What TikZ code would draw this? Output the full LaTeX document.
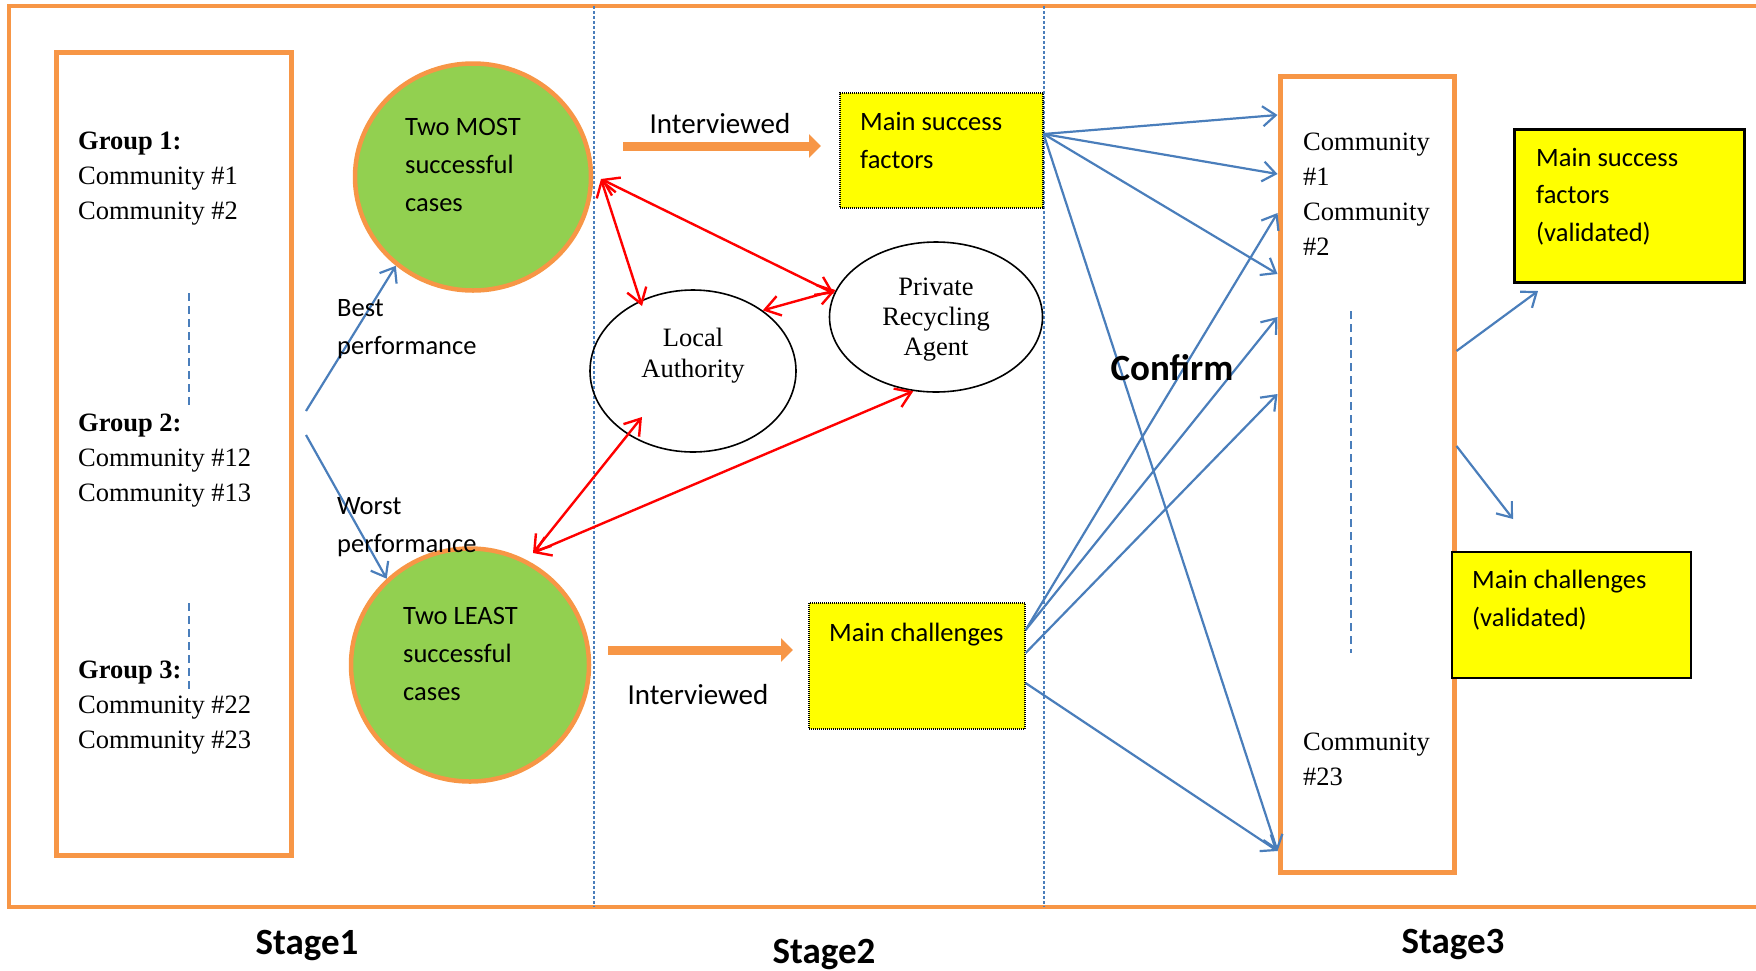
\documentclass[tikz,border=0pt]{standalone}
\usepackage{fontspec}
\setmainfont{Liberation Serif}
\newfontfamily\calibri{Carlito}
\usetikzlibrary{arrows.meta,positioning,calc,shapes.geometric}
\definecolor{frameorange}{HTML}{F79646}
\definecolor{casegreen}{HTML}{92D050}
\definecolor{notebg}{HTML}{FFFF00}
\definecolor{linkblue}{HTML}{4A7EBB}
\definecolor{linkred}{HTML}{FF0000}

\begin{document}
\begin{tikzpicture}[x=1pt, y=-1pt,
  serif/.style={font=\fontsize{26.5}{35}\selectfont, align=left, inner sep=0pt},
  sans/.style={font=\calibri\fontsize{26.5}{38}\selectfont, align=left, inner sep=0pt},
  ivtext/.style={font=\calibri\fontsize{29}{34}\selectfont, inner sep=0pt},
  casecircle/.style={ellipse, draw=frameorange, fill=casegreen, line width=4.5pt},
  actor/.style={ellipse, draw=black, line width=1.6pt},
  finding/.style={draw=black, fill=notebg, dash pattern=on 1pt off 1pt, line width=1.2pt},
  validated/.style={draw=black, fill=notebg},
  groupbox/.style={draw=frameorange, line width=5pt},
  stagedash/.style={draw=linkblue, line width=1.1pt, dash pattern=on 3pt off 2pt},
  innerdash/.style={draw=linkblue, line width=1.6pt, dash pattern=on 8pt off 5pt},
  flow/.style={-{Straight Barb[length=13pt,width=20pt]}, draw=linkblue, line width=2.2pt},
  tie/.style={{Straight Barb[length=15pt,width=20pt]}-{Straight Barb[length=15pt,width=20pt]},
              draw=linkred, line width=2.4pt},
  interview/.style={-{Triangle[length=12pt,width=23pt]}, draw=frameorange, line width=9pt},
  stagelabel/.style={font=\calibri\bfseries\fontsize{37}{40}\selectfont}]

\useasboundingbox (0,0) rectangle (1756,970);

% frame and stage separators
\draw[frameorange, line width=4pt] (1760,6) -- (9,6) -- (9,907) -- (1760,907);
\draw[stagedash] (594,6) -- (594,907);
\draw[stagedash] (1044,6) -- (1044,907);

% stage 1
\node[groupbox, minimum width=235pt, minimum height=803pt] (groups) at (173.5,453.5) {};
\node[serif, anchor=north west] (g1) at (78,132) {\textbf{Group 1:}\\Community \#1\\Community \#2};
\node[serif, anchor=north west] (g2) at (78,414) {\textbf{Group 2:}\\Community \#12\\Community \#13};
\node[serif, anchor=north west] (g3) at (78,661) {\textbf{Group 3:}\\Community \#22\\Community \#23};
\draw[innerdash] (189,293) -- (189,409);
\draw[innerdash] (189,603) -- (189,689);

\node[casecircle, minimum width=236pt, minimum height=227pt] (most) at (473,177) {};
\node[sans, anchor=north west] (mosttext) at (405,118) {Two MOST\\successful\\cases};
\node[casecircle, minimum width=238pt, minimum height=233pt] (least) at (470,665) {};
\node[sans, anchor=north west] (leasttext) at (403,607) {Two LEAST\\successful\\cases};

\coordinate (fork) at (306,411);
\coordinate (forklow) at (306,435);
\draw[flow] (fork) -- (most.229);
\draw[flow] (forklow) -- (least.134);
\node[sans, anchor=north west] (best) at (337,299) {Best\\performance};
\node[sans, anchor=north west] (worst) at (337,497) {Worst\\performance};

% stage 2
\node[ivtext] (ivtop) at (720,124) {Interviewed};
\coordinate (ivtopstart) at (623,146);
\coordinate (ivtopend) at (821,146);
\draw[interview] (ivtopstart) -- (ivtopend);
\node[ivtext] (ivlow) at (698,695) {Interviewed};
\coordinate (ivlowstart) at (608,650);
\coordinate (ivlowend) at (793,650);
\draw[interview] (ivlowstart) -- (ivlowend);

\node[finding, minimum width=203pt, minimum height=115pt] (succ) at (941.5,150.5) {};
\node[sans, anchor=north west] (succtext) at (860,112) {Main success\\factors};
\node[finding, minimum width=216pt, minimum height=126pt] (chal) at (917,666) {};
\node[sans, anchor=north west] (chaltext) at (829,623) {Main challenges};

\node[actor, minimum width=206pt, minimum height=162pt] (la) at (693,371) {};
\node[serif, align=center, font=\fontsize{26.5}{31}\selectfont] (latext)
  at ([yshift=15pt]la.center) {Local\\Authority};
\node[actor, minimum width=213pt, minimum height=150pt] (pra) at (936,317) {};
\node[serif, align=center, font=\fontsize{26.5}{30}\selectfont] (pratext)
  at ([yshift=-3pt]pra.center) {Private\\Recycling\\Agent};

\draw[tie] ($(most.center)+(128,2)$) -- ($(la.center)+(-51,-65)$);
\draw[tie] ($(most.center)+(128,2)$) -- (pra.167);
\draw[tie] (la.41) -- (pra.165);
\draw[tie] ($(la.center)+(-51,46)$) -- ($(least.center)+(63,-112)$);
\draw[tie] (pra.253) -- ($(least.center)+(63,-112)$);

% stage 3
\node[groupbox, minimum width=174pt, minimum height=796pt] (comm) at (1367,474) {};
\node[serif, anchor=north west] (commtop) at (1303,133) {Community\\\#1\\Community\\\#2};
\node[serif, anchor=north west] (commlow) at (1303,733) {Community\\\#23};
\draw[innerdash] (1351,311) -- (1351,653);

\node[validated, line width=3pt, minimum width=230pt, minimum height=153pt] (valsucc) at (1629,205.5) {};
\node[sans, anchor=north west, font=\calibri\fontsize{26.5}{37.5}\selectfont] (valsucctext)
  at (1536,148) {Main success\\factors\\(validated)};
\node[validated, line width=2pt, minimum width=239pt, minimum height=126pt] (valchal) at (1571.5,615) {};
\node[sans, anchor=north west] (valchaltext) at (1472,570) {Main challenges\\(validated)};

\foreach \dy in {359,300,200,-377}
  \draw[flow] ([yshift=16.5pt]succ.east) -- ([yshift=\dy pt]comm.west);
\draw[flow] ([yshift=36pt]chal.east) -- ([yshift=261pt]comm.west);
\draw[flow] ([yshift=36pt]chal.east) -- ([yshift=157pt]comm.west);
\draw[flow] ([yshift=13pt]chal.east) -- ([yshift=80pt]comm.west);
\draw[flow] ([yshift=-17pt]chal.east) -- ([yshift=-377pt]comm.west);

\coordinate (toval) at (1538,291);
\coordinate (tochal) at (1513,519);
\draw[flow] ([yshift=123pt]comm.east) -- (toval);
\draw[flow] ([yshift=28pt]comm.east) -- (tochal);

\node[stagelabel] (confirm) at (1172,368) {Confirm};

\node[stagelabel] (stage1) at (307,945) {Stage1};
\node[stagelabel] (stage2) at (824,954) {Stage2};
\node[stagelabel] (stage3) at (1453,944) {Stage3};
\end{tikzpicture}
\end{document}
